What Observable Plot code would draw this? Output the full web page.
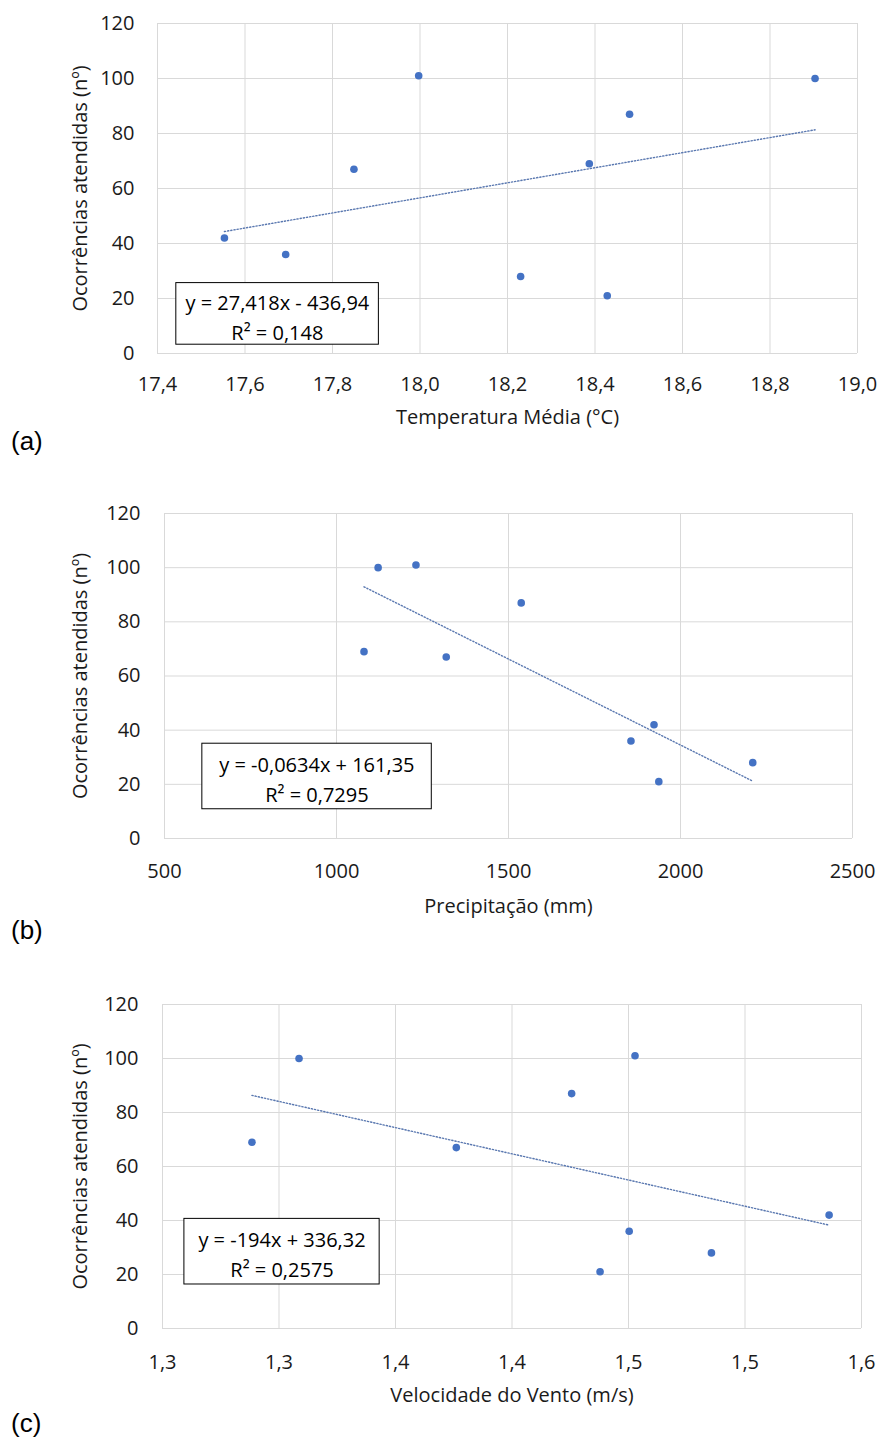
<!DOCTYPE html>
<html><head><meta charset="utf-8">
<script src="https://cdn.jsdelivr.net/npm/d3@7"></script>
<script src="https://cdn.jsdelivr.net/npm/@observablehq/plot@0.6"></script>
<style>
body{margin:0;background:#fff;width:882px;height:1437px;position:relative;overflow:hidden;font-family:"Open Sans",sans-serif;}
.panel{position:absolute;left:0;}
.tag{position:absolute;left:11px;font-family:"Liberation Sans",Arial,sans-serif;font-size:26px;color:#000;line-height:26px;}
</style></head><body>
<div id="pa" class="panel" style="top:0px"></div>
<div class="tag" style="top:428px">(a)</div>
<div id="pb" class="panel" style="top:480px"></div>
<div class="tag" style="top:917px">(b)</div>
<div id="pc" class="panel" style="top:975px"></div>
<div class="tag" style="top:1410px">(c)</div>
<script>
// ---- data ----
const yTicks = [0, 20, 40, 60, 80, 100, 120];
const yTitle = "Ocorrências atendidas (nº)";

// (a) temperature
const tempMedia = [17.553, 17.693, 17.849, 17.997, 18.230, 18.387, 18.428, 18.479, 18.903];
const ocorrA    = [42, 36, 67, 101, 28, 69, 21, 87, 100];
const tempTicks = [17.4, 17.6, 17.8, 18.0, 18.2, 18.4, 18.6, 18.8, 19.0];
const tempTickLabels = ["17,4", "17,6", "17,8", "18,0", "18,2", "18,4", "18,6", "18,8", "19,0"];
const tempTitle = "Temperatura Média (°C)";
const eqA = ["y = 27,418x - 436,94", "R² = 0,148"];

// (b) precipitation
const precip = [1080, 1121, 1231, 1319, 1537, 1856, 1923, 1937, 2210];
const ocorrB = [69, 100, 101, 67, 87, 36, 42, 21, 28];
const precTicks = [500, 1000, 1500, 2000, 2500];
const precTickLabels = ["500", "1000", "1500", "2000", "2500"];
const precTitle = "Precipitação (mm)";
const eqB = ["y = -0,0634x + 161,35", "R² = 0,7295"];

// (c) wind speed
const vento = [1.2884, 1.3086, 1.3761, 1.4256, 1.4378, 1.4503, 1.4528, 1.4856, 1.5361];
const ocorrC = [69, 100, 67, 87, 21, 36, 101, 28, 42];
const ventTicks = [1.25, 1.30, 1.35, 1.40, 1.45, 1.50, 1.55];
const ventTickLabels = ["1,3", "1,3", "1,4", "1,4", "1,5", "1,5", "1,6"];
const ventTitle = "Velocidade do Vento (m/s)";
const eqC = ["y = -194x + 336,32", "R² = 0,2575"];

// ---- drawing ----
const FONT = '"Open Sans", sans-serif';
function panel(cfg) {
  const data = cfg.xs.map((x, i) => ({x, y: cfg.ys[i]}));
  const labelMap = new Map(cfg.xTicks.map((t, i) => [t, cfg.xLabels[i]]));
  const plot = Plot.plot({
    width: 882, height: cfg.height,
    marginTop: cfg.mt, marginBottom: cfg.mb, marginLeft: cfg.ml, marginRight: cfg.mr,
    style: {fontFamily: FONT, fontSize: "20px", color: "#1a1a1a", background: "white", overflow: "visible"},
    x: {domain: [cfg.xTicks[0], cfg.xTicks[cfg.xTicks.length - 1]]},
    y: {domain: [0, 120]},
    marks: [
      Plot.gridX(cfg.xTicks, {stroke: "#d9d9d9", strokeOpacity: 1, strokeWidth: 1}),
      Plot.gridY(yTicks, {stroke: "#d9d9d9", strokeOpacity: 1, strokeWidth: 1}),
      Plot.axisX(cfg.xTicks, {tickSize: 0, tickPadding: cfg.xPad, tickFormat: d => labelMap.get(d), label: null, fontSize: 20}),
      Plot.axisY(yTicks, {tickSize: 0, tickPadding: cfg.yPad, label: null, fontSize: 20}),
      Plot.linearRegressionY(data, {x: "x", y: "y", ci: 0, stroke: "#5a78b0", strokeWidth: 1.4, strokeDasharray: "1.2,2"}),
      Plot.dot(data, {x: "x", y: "y", r: 3.8, fill: "#4472C4", stroke: "none"}),
      Plot.rect([cfg.box], {x1: "x1", x2: "x2", y1: "y1", y2: "y2", fill: "white", stroke: "#000", strokeWidth: 1}),
      Plot.text([cfg.eq.join("\n")], {x: cfg.box.tx, y: cfg.box.ty, lineHeight: 1.5, fontSize: 20, fill: "#000", textAnchor: "middle", lineAnchor: "middle"}),
      Plot.text([cfg.xTitle], {frameAnchor: "bottom", dy: cfg.xTitleDy, textAnchor: "middle", lineAnchor: "middle", fontSize: 20, fill: "#1a1a1a"}),
      Plot.text([yTitle], {frameAnchor: "left", dx: -cfg.yTitleDx, rotate: -90, textAnchor: "middle", lineAnchor: "middle", fontSize: 20, fill: "#1a1a1a"})
    ]
  });
  document.getElementById(cfg.el).appendChild(plot);
}

panel({el: "pa", height: 430, mt: 23, mb: 77, ml: 157, mr: 25,
  xs: tempMedia, ys: ocorrA, xTicks: tempTicks, xLabels: tempTickLabels, xTitle: tempTitle, eq: eqA,
  xPad: 23, yPad: 23, xTitleDy: 64, yTitleDx: 77,
  box: {x1: 17.443, x2: 17.906, y1: 3.2, y2: 25.6, tx: 17.674, ty: 14.0}});

panel({el: "pb", height: 440, mt: 33, mb: 82, ml: 164, mr: 30,
  xs: precip, ys: ocorrB, xTicks: precTicks, xLabels: precTickLabels, xTitle: precTitle, eq: eqB,
  xPad: 25, yPad: 24, xTitleDy: 68, yTitleDx: 84,
  box: {x1: 610, x2: 1277, y1: 10.8, y2: 35.0, tx: 943, ty: 22.5}});

panel({el: "pc", height: 435, mt: 29, mb: 82, ml: 162, mr: 21,
  xs: vento, ys: ocorrC, xTicks: ventTicks, xLabels: ventTickLabels, xTitle: ventTitle, eq: eqC,
  xPad: 26, yPad: 24, xTitleDy: 67, yTitleDx: 82,
  box: {x1: 1.2594, x2: 1.3432, y1: 16.3, y2: 40.6, tx: 1.3013, ty: 28.2}});
</script>
</body></html>
